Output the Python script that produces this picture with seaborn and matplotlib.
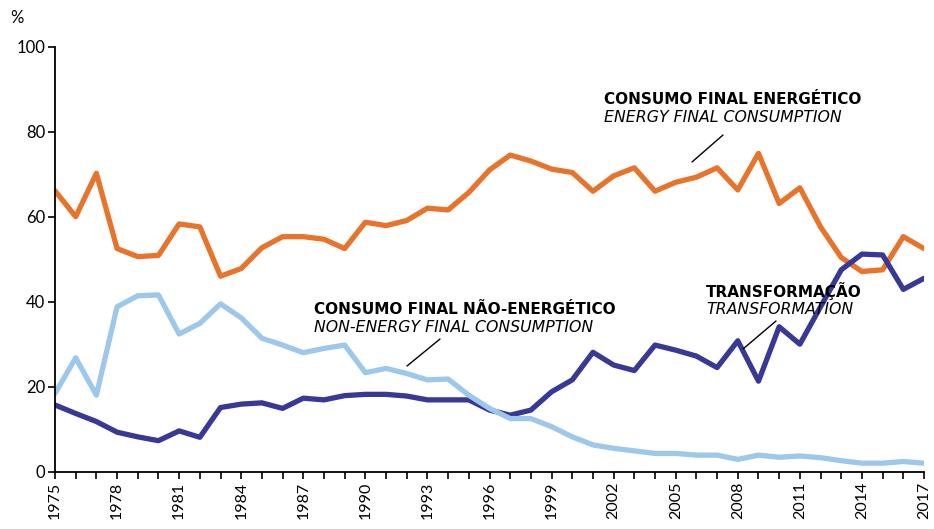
import matplotlib
matplotlib.use("Agg")
import matplotlib.pyplot as plt
import seaborn as sns
import pandas as pd
import numpy as np

years = list(range(1975, 2018))

energy_final = [66.1, 60.0, 70.2, 52.5, 50.6, 50.9, 58.3, 57.6, 46.0, 47.8,
                52.7, 55.3, 55.3, 54.7, 52.5, 58.7, 57.9, 59.1, 62.0, 61.6,
                65.7, 71.0, 74.5, 73.1, 71.2, 70.4, 66.0, 69.6, 71.5, 66.0,
                68.1, 69.3, 71.5, 66.3, 74.9, 63.1, 66.8, 57.6, 50.4, 47.1,
                47.5, 55.3, 52.5]

non_energy = [18.4, 26.8, 18.0, 38.8, 41.4, 41.6, 32.4, 34.9, 39.5, 36.2,
              31.4, 29.8, 28.0, 29.0, 29.8, 23.3, 24.3, 23.1, 21.6, 21.8,
              18.0, 14.9, 12.5, 12.5, 10.6, 8.2, 6.3, 5.5, 4.9, 4.3,
              4.3, 3.9, 3.9, 2.9, 3.9, 3.4, 3.7, 3.3, 2.6, 2.0,
              2.0, 2.4, 2.0]

transformation = [15.7, 13.7, 11.8, 9.3, 8.2, 7.3, 9.6, 8.1, 15.1, 15.9,
                  16.2, 14.9, 17.3, 16.9, 17.9, 18.2, 18.2, 17.8, 16.9, 16.9,
                  16.9, 14.5, 13.3, 14.5, 18.8, 21.6, 28.1, 25.1, 23.8, 29.8,
                  28.6, 27.2, 24.5, 30.8, 21.3, 34.1, 30.0, 38.8, 47.5, 51.2,
                  51.0, 42.9, 45.5]

series_names = ["energy", "transformation", "non_energy"]
colors = {"energy": "#E8732A", "transformation": "#383896", "non_energy": "#9DC8EB"}

df = pd.DataFrame({
    "year": years * 3,
    "value": energy_final + transformation + non_energy,
    "series": ["energy"] * len(years) + ["transformation"] * len(years) + ["non_energy"] * len(years),
})

sns.set_style("ticks")
plt.rcParams["font.family"] = ["DejaVu Sans"]
plt.rcParams["text.color"] = "black"
plt.rcParams["xtick.color"] = "black"
plt.rcParams["ytick.color"] = "black"

fig = plt.figure(figsize=(9.34, 5.29), dpi=100)
ax = fig.add_axes([55 / 934, 1 - 471.7 / 529, (924 - 55) / 934, (471.7 - 46.7) / 529])

sns.lineplot(data=df, x="year", y="value", hue="series", hue_order=series_names,
             palette=colors, linewidth=3.8, legend=False, ax=ax)

ax.set_xlim(1975, 2017)
ax.set_ylim(0, 100)
ax.set_xticks(years)
ax.set_xticklabels([str(y) if (y - 1975) % 3 == 0 else "" for y in years],
                   rotation=90, fontsize=11.5, family="Lato")
ax.set_yticks([0, 20, 40, 60, 80, 100])
ax.set_yticklabels(["0", "20", "40", "60", "80", "100"], fontsize=12, family="Lato")
ax.tick_params(axis="both", direction="out", length=5, width=1.2, pad=2)
ax.set_xlabel("")
ax.set_ylabel("")
sns.despine(ax=ax)
for s in ["left", "bottom"]:
    ax.spines[s].set_color("black")
    ax.spines[s].set_linewidth(1.3)

fig.text(10 / 934, 1 - 18 / 529, "%", fontsize=12, family="Lato", va="center")

def label(x, y, bold, ital):
    fig.text(x / 934, 1 - y / 529, bold, fontsize=11, fontweight="bold", va="center")
    fig.text(x / 934, 1 - (y + 18) / 529, ital, fontsize=11.3, style="italic", va="center")

def leader(x0, y0, x1, y1):
    fig.add_artist(plt.Line2D([x0 / 934, x1 / 934], [1 - y0 / 529, 1 - y1 / 529],
                              color="black", linewidth=1.0))

label(604, 99, "CONSUMO FINAL ENERGÉTICO", "ENERGY FINAL CONSUMPTION")
leader(723, 135, 692, 162)
label(314, 309, "CONSUMO FINAL NÃO-ENERGÉTICO", "NON-ENERGY FINAL CONSUMPTION")
leader(440, 339, 407, 366)
label(706, 291, "TRANSFORMAÇÃO", "TRANSFORMATION")
leader(776, 321, 743, 349)

fig.savefig("out.png", dpi=100)
